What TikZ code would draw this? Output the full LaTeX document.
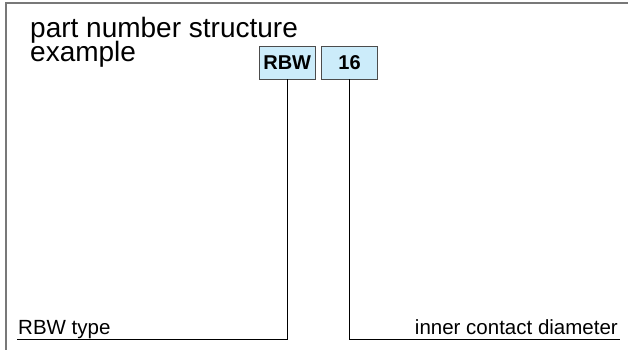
\documentclass[tikz,border=0pt]{standalone}
\usepackage{fontspec}
\setmainfont{Liberation Sans}
\usepackage{tikz}
\usetikzlibrary{positioning}

\definecolor{partblue}{RGB}{204,236,250}
\definecolor{framegray}{RGB}{120,120,120}

\begin{document}
\begin{tikzpicture}[x=1pt, y=-1pt, node distance=6pt,
        heading/.style={anchor=base west, inner sep=0pt, font=\fontsize{28}{28}\selectfont},
        part/.style={draw=black!70, fill=partblue, minimum width=56pt, minimum height=33pt, inner sep=0pt, font=\bfseries\fontsize{20}{24}\selectfont},
        desc/.style={inner sep=0pt, font=\fontsize{20.5}{24}\selectfont}]
        \useasboundingbox (0,0) rectangle (628,350);
        \draw[framegray, line width=1.5pt] (6,350) -- (6,3) -- (628,3);

        \node[heading]                                      (title)     at (30,38) {part number structure};
        \node[heading]                                      (title 2)   at (30,62) {example};
        \node[part, anchor=north west]                      (rbw)       at (259,46) {RBW};
        \node[part, right=of rbw]                           (dia)       {16};
        \node[desc, anchor=base west]                       (rbw text)  at (18,334) {RBW type};
        \node[desc, anchor=base east]                       (dia text)  at (618,334) {inner contact diameter};
        \coordinate (left end)  at (17,339);
        \coordinate (right end) at (620,339);

        \draw (rbw) -- (rbw |- left end) -- (left end);
        \draw (dia) -- (dia |- right end) -- (right end);
    \end{tikzpicture}
\end{document}
